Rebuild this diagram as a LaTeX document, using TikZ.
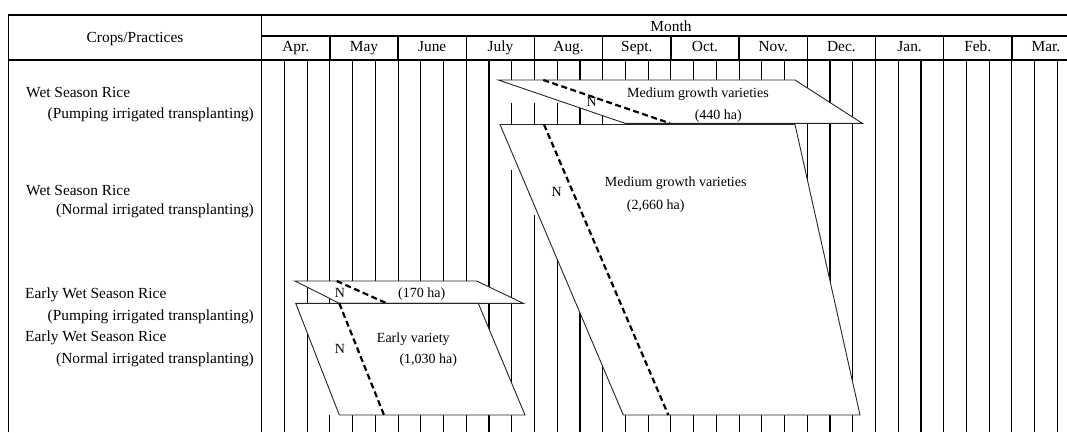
\documentclass[tikz,border=0pt]{standalone}
\usepackage{fontspec}
\setmainfont{Liberation Serif}
\begin{document}
\begin{tikzpicture}[x=1pt,y=-1pt, font=\fontsize{15.4}{18}\selectfont,
 gridline/.style={line width=1.1pt, black},
 frame/.style={line width=1.4pt, black},
 field/.style={draw=black!85, line width=0.9pt, fill=white},
 mask/.style={fill=white, draw=none},
 nline/.style={line width=2.2pt, dash pattern=on 6pt off 3.5pt},
 lbl/.style={inner sep=0pt, anchor=base},
 inlbl/.style={inner sep=0pt, anchor=base, font=\fontsize{14}{16}\selectfont},
 lw/.style={inner sep=0pt, anchor=base west},
 le/.style={inner sep=0pt, anchor=base east}]
\useasboundingbox (0,0) rectangle (1067,432);
% dekad grid lines
\foreach \k in {1,...,35}{
  \draw[gridline] ({261.7+\k*22.733},60) -- ({261.7+\k*22.733},432);
}
% gaps in grid lines (white masks)
\fill[mask] (505,80.5) rectangle (563,103);
\fill[mask] (505,124) rectangle (517,170);
\fill[mask] (528,124) rectangle (540,215);
\fill[mask] (551,124) rectangle (563,258);
\fill[mask] (324,303) rectangle (336,415);
% month boundaries in header
\foreach \k in {1,...,11}{
  \draw[frame] ({261.7+\k*68.2},36) -- ({261.7+\k*68.2},60);
}
% frame
\draw[frame] (8.5,432) -- (8.5,15) -- (1067,15);
\draw[frame] (8.5,60) -- (1067,60);
\draw[frame] (261.7,36) -- (1067,36);
\draw[frame] (261.7,15) -- (261.7,432);
% header texts
\node[lbl] (hcrop) at (135,42) {Crops/Practices};
\node[lbl] (hmonth) at (671,31) {Month};
\foreach \m [count=\i from 0] in {Apr.,May,June,July,Aug.,Sept.,Oct.,Nov.,Dec.,Jan.,Feb.,Mar.}{
  \node[lbl] (m\i) at ({261.7+\i*68.2+34.1},51) {\m};
}
% row labels
\node[lw] (r1a) at (26,97.5) {Wet Season Rice};
\node[le] (r1b) at (254,118.5) {(Pumping irrigated transplanting)};
\node[lw] (r2a) at (26,195) {Wet Season Rice};
\node[le] (r2b) at (254,214) {(Normal irrigated transplanting)};
\node[lw] (r3a) at (25,298.5) {Early Wet Season Rice};
\node[le] (r3b) at (254,320) {(Pumping irrigated transplanting)};
\node[lw] (r4a) at (25,341.5) {Early Wet Season Rice};
\node[le] (r4b) at (254,363) {(Normal irrigated transplanting)};
% Wet season pumping (440 ha)
\draw[field] (498.3,80) -- (795,80) -- (862.3,123.3) -- (625,123.3) -- cycle;
\draw[nline] (543.3,80) -- (670,123.3);
\node[inlbl] (n1) at (591.7,106.7) {N};
\node[inlbl] (t1) at (698,97.5) {Medium growth varieties};
\node[inlbl] (t1b) at (718.3,119) {(440 ha)};
% Wet season normal (2,660 ha)
\draw[field] (500,124.5) -- (795,124.5) -- (860,415) -- (623.3,415) -- cycle;
\draw[nline] (544,124.5) -- (668.3,415);
\node[inlbl] (n2) at (556.7,196.7) {N};
\node[inlbl] (t2) at (675.7,186) {Medium growth varieties};
\node[inlbl] (t2b) at (655.7,209) {(2,660 ha)};
% Early wet pumping (170 ha)
\draw[field] (295,281) -- (476.7,281) -- (523.3,303.3) -- (339.3,303.3) -- cycle;
\draw[nline] (336.7,281) -- (386.7,303.3);
\node[inlbl] (n3) at (340,297.3) {N};
\node[inlbl] (t3) at (421.7,297.3) {(170 ha)};
% Early wet normal (1,030 ha)
\draw[field] (295.7,303.3) -- (478.3,303.3) -- (525,415) -- (339.3,415) -- cycle;
\draw[nline] (339.3,303.3) -- (384,415);
\node[inlbl] (n4) at (340,353.3) {N};
\node[inlbl] (t4) at (413.3,342.7) {Early variety};
\node[inlbl] (t4b) at (428.3,363.3) {(1,030 ha)};
\end{tikzpicture}
\end{document}
